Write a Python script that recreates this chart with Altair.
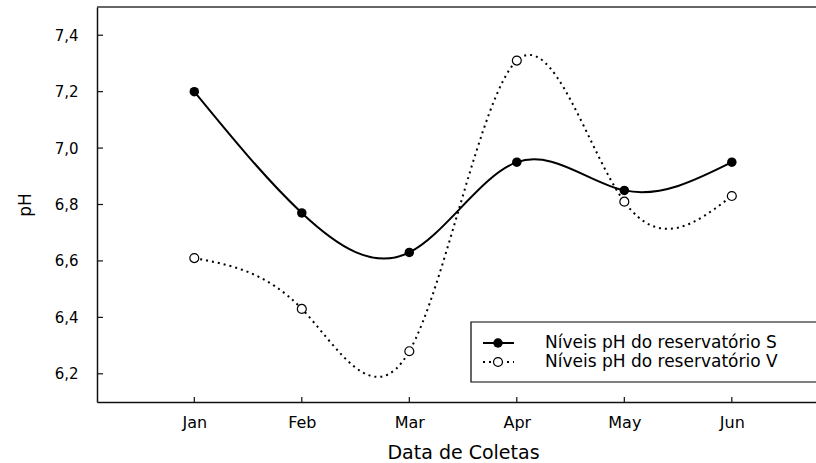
import altair as alt
import pandas as pd

# Collection months and pH readings for the two reservoirs
months = ["Jan", "Feb", "Mar", "Apr", "May", "Jun"]
month_idx = [1, 2, 3, 4, 5, 6]
ph_s = [7.20, 6.77, 6.63, 6.95, 6.85, 6.95]
ph_v = [6.61, 6.43, 6.28, 7.31, 6.81, 6.83]
y_ticks = [6.2, 6.4, 6.6, 6.8, 7.0, 7.2, 7.4]
series_labels = ["Níveis pH do reservatório S", "Níveis pH do reservatório V"]

FONT = "DejaVu Sans"
W, H = 719, 395

df_s = pd.DataFrame({"m": month_idx, "ph": ph_s})
df_v = pd.DataFrame({"m": month_idx, "ph": ph_v})
df_xt = pd.DataFrame({"m": month_idx})
df_yt = pd.DataFrame({"ph": y_ticks})

xscale = alt.Scale(domain=[0.095, 6.783], nice=False, zero=False)
yscale = alt.Scale(domain=[6.1, 7.5], nice=False, zero=False)

label_list = "[" + ",".join(f"'{m}'" for m in months) + "]"

x_enc = alt.X(
    "m:Q",
    scale=xscale,
    axis=alt.Axis(
        values=month_idx,
        labelExpr=f"{label_list}[datum.value - 1]",
        title="Data de Coletas",
        ticks=False,
        tickSize=0,
        grid=False,
        domainColor="#111",
        domainWidth=1.5,
        labelFont=FONT,
        labelFontSize=16,
        labelColor="black",
        labelPadding=12,
        titleFont=FONT,
        titleFontSize=19,
        titleFontWeight="normal",
        titleColor="black",
        titleBaseline="top",
        titleY=41,
        titleX=366,
    ),
)
y_enc = alt.Y(
    "ph:Q",
    scale=yscale,
    axis=alt.Axis(
        values=y_ticks,
        labelExpr="replace(format(datum.value, '.1f'), '.', ',')",
        title="pH",
        ticks=False,
        tickSize=0,
        grid=False,
        domainColor="#111",
        domainWidth=1.5,
        labelFont=FONT,
        labelFontSize=15,
        labelColor="black",
        labelPadding=19,
        titleFont=FONT,
        titleFontSize=17,
        titleFontWeight="normal",
        titleColor="black",
        titleAngle=270,
        titleBaseline="middle",
        titleAlign="center",
        titleX=-72,
        titleY=H / 2,
    ),
)

# Smoothed series lines
line_s = alt.Chart(df_s).mark_line(
    interpolate="natural", color="black", strokeWidth=2
).encode(x=x_enc, y=y_enc)
line_v = alt.Chart(df_v).mark_line(
    interpolate="natural", color="black", strokeWidth=2, strokeDash=[2, 4]
).encode(x="m:Q", y="ph:Q")

# Markers: filled for S, hollow for V
pts_s = alt.Chart(df_s).mark_circle(
    size=90, color="black", opacity=1
).encode(x="m:Q", y="ph:Q")
pts_v = alt.Chart(df_v).mark_circle(
    size=80, fill="white", stroke="black", strokeWidth=1.2, opacity=1
).encode(x="m:Q", y="ph:Q")

# Inward-pointing tick marks
xticks = alt.Chart(df_xt).mark_rule(color="#111", strokeWidth=1.2).encode(
    x="m:Q", y=alt.value(H), y2=alt.value(H - 5)
)
yticks = alt.Chart(df_yt).mark_rule(color="#111", strokeWidth=1.2).encode(
    y="ph:Q", x=alt.value(0), x2=alt.value(6)
)

# Top frame line
frame_top = alt.Chart(pd.DataFrame({"k": [0]})).mark_rule(
    color="#333", strokeWidth=1.5
).encode(x=alt.value(0), x2=alt.value(W + 5), y=alt.value(0))

# Legend box with line-and-marker samples
leg_df = pd.DataFrame({"k": [0]})
leg_box = alt.Chart(leg_df).mark_rect(
    fill="white", stroke="black", strokeWidth=1.2
).encode(x=alt.value(374), x2=alt.value(W + 10), y=alt.value(315), y2=alt.value(375))

row_y = [336, 355]
leg_layers = [leg_box]
for i, lab in enumerate(series_labels):
    ry = row_y[i]
    seg = alt.Chart(leg_df).mark_rule(
        color="black",
        strokeWidth=2,
        **({} if i == 0 else {"strokeDash": [2, 4]}),
    ).encode(x=alt.value(386), x2=alt.value(417), y=alt.value(ry))
    if i == 0:
        mk = alt.Chart(leg_df).mark_circle(size=90, color="black", opacity=1).encode(
            x=alt.value(401), y=alt.value(ry)
        )
    else:
        mk = alt.Chart(leg_df).mark_circle(
            size=80, fill="white", stroke="black", strokeWidth=1.2, opacity=1
        ).encode(x=alt.value(401), y=alt.value(ry))
    txt = alt.Chart(leg_df).mark_text(
        align="left", baseline="middle", font=FONT, fontSize=17, color="black"
    ).encode(x=alt.value(448), y=alt.value(ry), text=alt.value(lab))
    leg_layers += [seg, mk, txt]

chart = alt.layer(
    line_s, line_v, pts_s, pts_v, xticks, yticks, frame_top, *leg_layers
).properties(
    width=W,
    height=H,
    autosize=alt.AutoSizeParams(type="none"),
    padding={"left": 97, "top": 7, "right": 0, "bottom": 61},
    background="white",
).configure_view(stroke=None)

chart.save("out.html", embed_options={"renderer": "svg", "actions": False})
